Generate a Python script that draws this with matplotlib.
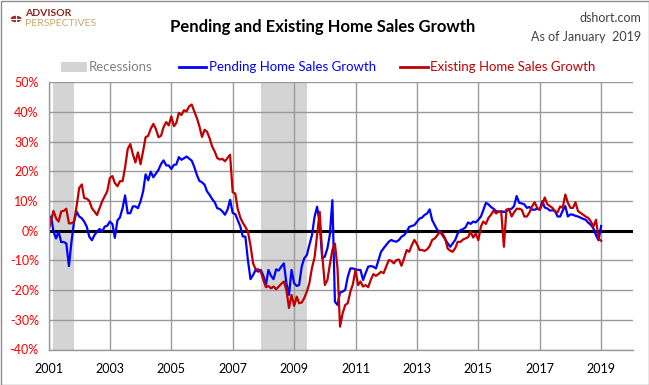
import pandas as pd
import matplotlib
matplotlib.use("Agg")
import matplotlib.pyplot as plt
from matplotlib.patches import Rectangle, Circle
from matplotlib.lines import Line2D

plt.rcParams["font.family"] = ["Lato", "DejaVu Sans"]

# monthly growth since Jan 2001, percent
start_month = "2001-01"
pending = [
    0.0, 4.8, -0.3, -2.6, -0.3, -3.8, -3.8, -4.3, -11.9, -3.8, 3.1, 6.5,          # 2001
    4.8, 4.2, 3.1, 1.4, -2.0, -3.2, -1.5, -0.3, 0.6, -0.3, 1.4, 1.7,              # 2002
    3.1, 2.2, -2.4, 3.5, 4.5, 7.6, 11.9, 5.9, 5.9, 8.2, 8.2, 7.6,                 # 2003
    9.9, 13.3, 19.0, 17.0, 19.9, 18.0, 19.2, 20.5, 22.5, 23.7, 22.0, 22.0,        # 2004
    20.8, 22.2, 22.3, 24.8, 23.9, 24.4, 25.0, 24.3, 23.6, 21.5, 18.8, 16.8,       # 2005
    16.3, 15.5, 13.3, 12.1, 10.7, 9.6, 7.6, 7.3, 6.5, 5.4, 7.1, 10.4,             # 2006
    6.0, 5.6, 3.7, 1.5, -1.9, -2.0, -9.9, -16.3, -14.9, -13.2, -13.8, -13.2,      # 2007
    -15.2, -18.2, -13.2, -15.2, -16.3, -13.0, -13.4, -12.1, -11.0, -17.7, -21.6, -13.2,  # 2008
    -17.7, -18.6, -18.3, -12.1, -9.3, -8.2, -4.8, -1.5, 4.7, 8.1, 2.5, -9.3,      # 2009
    -8.7, -5.9, -1.5, 10.3, -23.9, -25.0, -20.8, -20.5, -19.9, -15.5, -12.7, -12.7,  # 2010
    -13.0, -13.2, -13.2, -16.6, -14.3, -12.1, -11.9, -12.1, -12.7, -9.9, -7.1, -5.9,  # 2011
    -4.8, -3.7, -3.1, -3.5, -3.7, -3.1, -2.0, -1.5, -0.3, 1.3, 1.6, 1.9,          # 2012
    3.0, 4.1, 4.4, 5.3, 5.8, 7.2, 3.6, 1.9, 0.2, -0.3, -1.5, -2.8,                # 2013
    -4.2, -5.4, -4.3, -3.1, -0.9, 0.2, 0.5, 1.1, 2.8, 2.3, 3.1, 2.8,              # 2014
    3.7, 4.8, 6.9, 9.4, 8.9, 8.0, 7.4, 6.6, 6.3, 6.6, 6.3, 6.6,                   # 2015
    7.1, 7.4, 8.3, 11.7, 9.4, 9.2, 8.9, 7.7, 8.0, 7.1, 7.1, 7.4,                  # 2016
    7.1, 10.0, 7.8, 7.5, 6.8, 6.9, 6.6, 4.8, 4.8, 6.8, 8.3, 4.8,                  # 2017
    5.5, 5.4, 5.0, 4.8, 4.4, 4.0, 3.7, 2.7, 2.0, 0.8, -1.5, -3.2,                 # 2018
    1.6,                                                                          # 2019
]
existing = [
    0.0, 3.5, 6.7, 4.2, 3.1, 6.5, 6.7, 7.4, 2.5, 2.5, 3.1, 8.2,                   # 2001
    14.4, 15.6, 11.0, 10.8, 10.1, 7.6, 6.5, 5.3, 7.6, 9.9, 11.6, 13.3,            # 2002
    17.8, 18.4, 16.1, 15.0, 16.7, 16.7, 21.3, 27.5, 29.2, 25.8, 23.0, 26.4,       # 2003
    22.4, 26.9, 31.5, 32.0, 34.3, 36.0, 34.3, 31.5, 32.0, 34.9, 36.6, 35.5,       # 2004
    38.5, 35.2, 36.3, 39.7, 39.0, 40.6, 40.2, 41.9, 42.5, 40.2, 38.0, 35.2,       # 2005
    31.6, 34.0, 33.4, 31.2, 28.4, 26.7, 24.5, 24.0, 24.2, 23.4, 24.5, 25.6,       # 2006
    13.0, 12.5, 7.5, 4.5, 2.7, 1.3, -0.3, -5.0, -11.0, -13.0, -13.0, -13.8,       # 2007
    -16.6, -19.0, -18.6, -19.4, -18.8, -19.7, -18.8, -17.9, -17.1, -20.0, -26.0, -21.6,  # 2008
    -25.3, -22.2, -24.4, -24.2, -22.7, -20.5, -17.7, -12.5, -9.0, -1.5, 6.4, -8.0,  # 2009
    -18.3, -16.6, -11.5, -6.5, -4.3, -12.7, -32.3, -27.8, -25.0, -24.4, -20.5, -18.0,  # 2010
    -13.2, -18.3, -17.1, -18.8, -18.3, -19.0, -16.6, -14.6, -15.2, -14.6, -13.8, -14.3,  # 2011
    -12.1, -9.9, -10.1, -11.0, -9.9, -9.7, -11.8, -9.3, -6.5, -7.1, -4.8, -3.1,   # 2012
    -4.5, -6.5, -6.5, -6.8, -6.3, -5.2, -3.1, -2.6, -1.5, -0.3, -1.0, -2.5,       # 2013
    -6.0, -6.7, -7.1, -5.9, -3.7, -3.8, -3.0, -2.6, -2.2, -0.3, -2.3, -0.9,       # 2014
    -3.2, 1.4, 3.1, 2.3, 4.3, 5.4, 6.8, 5.8, 6.6, 6.2, -5.4, 7.1,                 # 2015
    7.4, 4.8, 6.2, 7.4, 7.4, 7.1, 4.8, 4.8, 6.2, 8.2, 9.6, 7.7,                   # 2016
    7.1, 8.9, 11.2, 8.9, 8.3, 7.7, 6.6, 6.2, 8.2, 7.7, 12.2, 9.4,                 # 2017
    7.7, 7.7, 9.6, 6.6, 6.0, 5.4, 4.8, 4.3, 3.1, 1.4, 3.7, -2.6,                  # 2018
    -3.4,                                                                         # 2019
]
recessions = [("2001-03-01", "2001-11-01"), ("2007-12-01", "2009-06-01")]
tick_years = list(range(2001, 2020, 2))
y_ticks = list(range(-40, 51, 10))

dates = pd.date_range(start_month, periods=len(pending), freq="MS")

W, H = 649, 385
fig = plt.figure(figsize=(W / 100, H / 100), dpi=100)
left, right, top, bottom = 48.5, 633, 82.3, 349.5
ax = fig.add_axes([left / W, 1 - bottom / H, (right - left) / W, (bottom - top) / H])

for a, b in recessions:
    ax.axvspan(pd.Timestamp(a), pd.Timestamp(b), color="#d4d4d4", lw=0, zorder=0)

ax.axhline(0, color="black", lw=2.2, zorder=1.5)
ax.plot(dates, pending, color="#0000ff", lw=1.6, zorder=2)
ax.plot(dates, existing, color="#c00000", lw=1.6, zorder=2.5)

ax.set_xlim(pd.Timestamp("2001-01-01"), pd.Timestamp("2020-01-15"))
ax.set_ylim(-40, 50)
ax.set_xticks([pd.Timestamp(f"{y}-01-01") for y in tick_years])
ax.set_xticklabels([str(y) for y in tick_years], fontsize=9)
ax.set_yticks(y_ticks)
ax.set_yticklabels([f"{v}%" for v in y_ticks], fontsize=9, color="#ff0000")
ax.tick_params(axis="both", length=0)
ax.tick_params(axis="x", pad=10)
ax.tick_params(axis="y", pad=7)

ax.set_axisbelow(True)
ax.grid(True, color="#9a9a9a", lw=1)
for side in ["top", "right"]:
    ax.spines[side].set_visible(False)
for side in ["left", "bottom"]:
    ax.spines[side].set_color("#9a9a9a")
    ax.spines[side].set_linewidth(1)

# header
fig.text(323 / W, 1 - 27 / H, "Pending and Existing Home Sales Growth",
         ha="center", va="center", fontsize=12, fontweight="bold")
fig.text(641 / W, 1 - 18 / H, "dshort.com", ha="right", va="center",
         fontsize=9, color="#404040")
fig.text(641 / W, 1 - 37 / H, "As of January  2019", ha="right", va="center",
         fontsize=9, color="#404040")

# logo
fig.patches.append(Circle((16 / W, 1 - 19 / H), 5.5 / W, transform=fig.transFigure,
                          facecolor="#9b2a2a", edgecolor="none"))
fig.lines.append(Line2D([16 / W, 16 / W], [1 - 12 / H, 1 - 26 / H],
                        transform=fig.transFigure, color="white", lw=0.8))
fig.lines.append(Line2D([9.5 / W, 22.5 / W], [1 - 19 / H, 1 - 19 / H],
                        transform=fig.transFigure, color="white", lw=0.8))
fig.text(25 / W, 1 - 14 / H, "ADVISOR", ha="left", va="center",
         fontsize=7.5, fontweight="bold", color="#8b2323")
fig.text(25 / W, 1 - 24 / H, "PERSPECTIVES", ha="left", va="center",
         fontsize=7.5, color="#c9a66b")

# legend
ly = 1 - 67 / H
fig.patches.append(Rectangle((61 / W, 1 - 72 / H), 26 / W, 10 / H,
                             transform=fig.transFigure, color="#d4d4d4", lw=0))
fig.text(89 / W, ly, "Recessions", ha="left", va="center", fontsize=9.5, color="#808080")
fig.lines.append(Line2D([179 / W, 206 / W], [ly, ly], transform=fig.transFigure,
                        color="#0000ff", lw=2))
fig.text(209 / W, ly, "Pending Home Sales Growth", ha="left", va="center",
         fontsize=9.5, color="#0000ff")
fig.lines.append(Line2D([400 / W, 428 / W], [ly, ly], transform=fig.transFigure,
                        color="#c00000", lw=2))
fig.text(430 / W, ly, "Existing Home Sales Growth", ha="left", va="center",
         fontsize=9.5, color="#c00000")

# outer frame
fig.patches.append(Rectangle((0.5 / W, 0.5 / H), (W - 1) / W, (H - 1) / H,
                             transform=fig.transFigure, fill=False,
                             edgecolor="#8c8c8c", lw=1))

fig.savefig("out.png", dpi=100)
